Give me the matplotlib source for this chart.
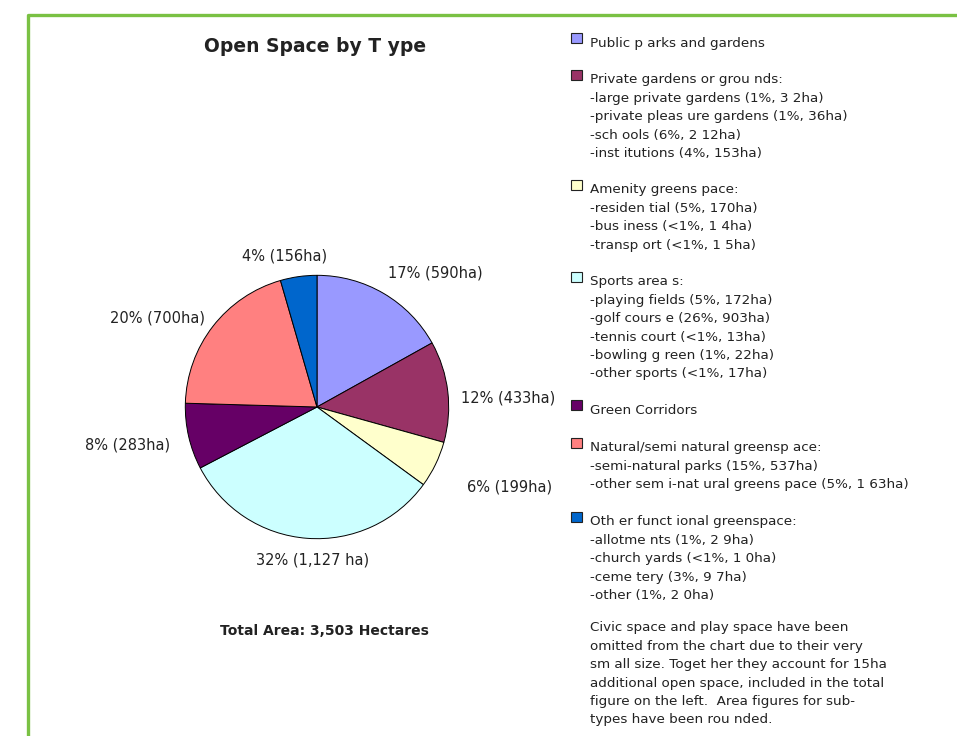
import matplotlib.pyplot as plt

plt.rcParams['font.family'] = ['DejaVu Sans']

# data
types = ["Public parks and gardens", "Private gardens or grounds", "Amenity greenspace",
         "Sports areas", "Green Corridors", "Natural/semi natural greenspace",
         "Other functional greenspace"]
hectares = [590, 433, 199, 1127, 283, 700, 156]
slice_labels = ["17% (590ha)", "12% (433ha)", "6% (199ha)", "32% (1,127 ha)",
                "8% (283ha)", "20% (700ha)", "4% (156ha)"]
colors = ["#9999FF", "#993366", "#FFFFCC", "#CCFFFF", "#660066", "#FF8080", "#0066CC"]

legend_lines = [
    ["Public p arks and gardens"],
    ["Private gardens or grou nds:", "-large private gardens (1%, 3 2ha)",
     "-private pleas ure gardens (1%, 36ha)", "-sch ools (6%, 2 12ha)",
     "-inst itutions (4%, 153ha)"],
    ["Amenity greens pace:", "-residen tial (5%, 170ha)", "-bus iness (<1%, 1 4ha)",
     "-transp ort (<1%, 1 5ha)"],
    ["Sports area s:", "-playing fields (5%, 172ha)", "-golf cours e (26%, 903ha)",
     "-tennis court (<1%, 13ha)", "-bowling g reen (1%, 22ha)", "-other sports (<1%, 17ha)"],
    ["Green Corridors"],
    ["Natural/semi natural greensp ace:", "-semi-natural parks (15%, 537ha)",
     "-other sem i-nat ural greens pace (5%, 1 63ha)"],
    ["Oth er funct ional greenspace:", "-allotme nts (1%, 2 9ha)",
     "-church yards (<1%, 1 0ha)", "-ceme tery (3%, 9 7ha)", "-other (1%, 2 0ha)"],
]
note_lines = ["Civic space and play space have been",
              "omitted from the chart due to their very",
              "sm all size. Toget her they account for 15ha",
              "additional open space, included in the total",
              "figure on the left.  Area figures for sub-",
              "types have been rou nded."]

# layout (pixels)
W, H = 957, 736
cx, cy, r = 317, 407, 133
label_pos = [(435, 273), (508, 398), (510, 487), (313, 560), (128, 445), (157, 318), (285, 256)]
block_y = [43, 80, 190, 282, 410, 448, 522]
note_y = 628
pitch = 18.4
text_col = "#222222"

fig = plt.figure(figsize=(W / 100, H / 100), dpi=100)
bg = fig.add_axes([0, 0, 1, 1])
bg.set_xlim(0, W)
bg.set_ylim(H, 0)
bg.axis('off')

bg.plot([28, 28, W], [H, 15, 15], color="#7ac143", lw=2.4, solid_capstyle='butt')

bg.text(315, 47, "Open Space by T ype", fontsize=13.5, fontweight='bold',
        ha='center', va='center', color=text_col)
bg.text(324, 631, "Total Area: 3,503 Hectares", fontsize=10, fontweight='bold',
        ha='center', va='center', color=text_col)

pax = fig.add_axes([(cx - r) / W, (H - cy - r) / H, 2 * r / W, 2 * r / H])
pax.pie(hectares, colors=colors, startangle=90, counterclock=False,
        wedgeprops=dict(edgecolor='black', linewidth=0.7))
pax.set_xlim(-1.01, 1.01)
pax.set_ylim(-1.01, 1.01)

for txt, (x, y) in zip(slice_labels, label_pos):
    bg.text(x, y, txt, fontsize=10.5, ha='center', va='center', color=text_col)

for lines, y0, c in zip(legend_lines, block_y, colors):
    bg.add_patch(plt.Rectangle((571, y0 - 10), 11, 10, facecolor=c,
                               edgecolor='#222222', lw=0.8))
    for i, ln in enumerate(lines):
        bg.text(590, y0 + i * pitch, ln, fontsize=9.7, ha='left', va='center', color=text_col)

for i, ln in enumerate(note_lines):
    bg.text(590, note_y + i * pitch, ln, fontsize=9.7, ha='left', va='center', color=text_col)

fig.savefig("out.png", dpi=100)
